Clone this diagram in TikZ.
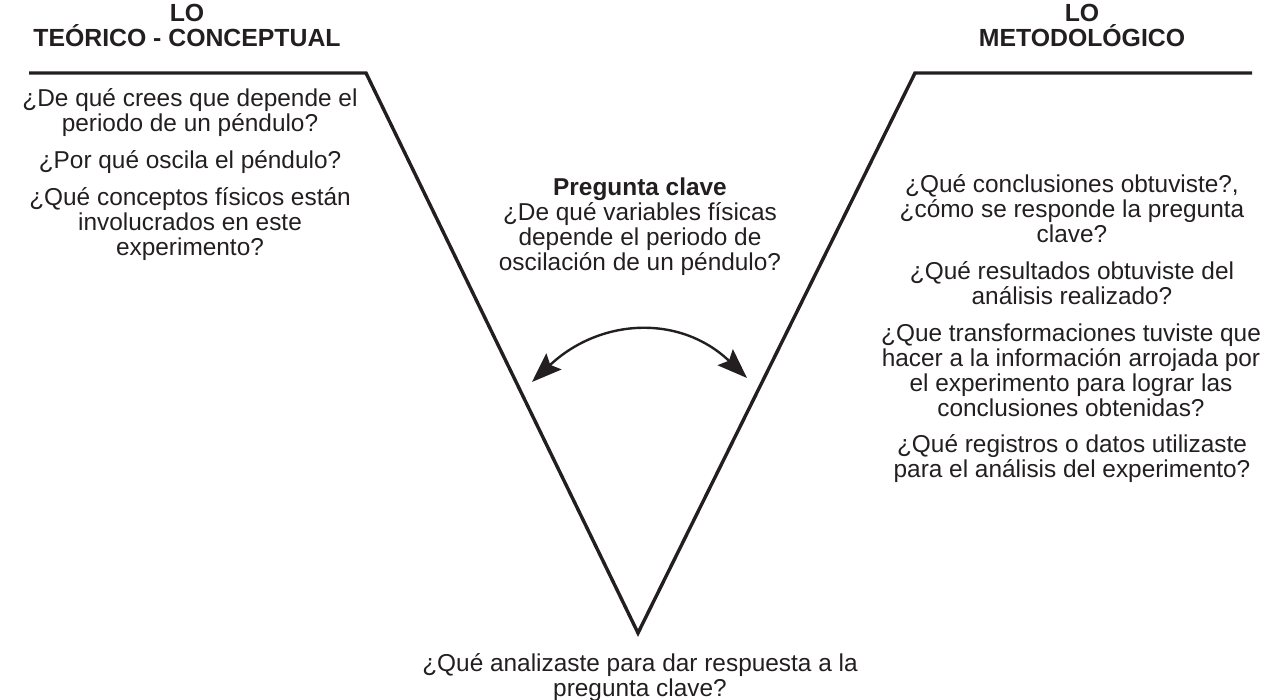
\documentclass[tikz,border=0pt]{standalone}
\usepackage{fontspec}
\setmainfont{Liberation Sans}
\usepackage{xcolor}
\usetikzlibrary{arrows.meta, positioning, calc}
\definecolor{ink}{RGB}{35,31,32}

\begin{document}
\begin{tikzpicture}[x=0.5pt, y=-0.5pt, >=Stealth]
  \tikzstyle{question} = [align=center, text=ink, inner sep=0pt, font=\fontsize{12.2}{12.5}\selectfont]
  \tikzstyle{header} = [question, font=\fontsize{12.4}{12.5}\selectfont\bfseries]
  \tikzstyle{vline} = [draw=ink, line width=1.7pt, line join=miter]

  \useasboundingbox (0,0) rectangle (1266,700);

  % the V
  \coordinate (lstart) at (29,73);
  \coordinate (lcorner) at (366,73);
  \coordinate (apex) at (638,633);
  \coordinate (rcorner) at (915,73);
  \coordinate (rend) at (1252,73);
  \draw[vline] (lstart) -- (lcorner) -- (apex) -- (rcorner) -- (rend);

  % headers
  \node [header] (theory) at (187,25.5) {LO\\TEÓRICO - CONCEPTUAL};
  \node [header] (method) at (1082,25.5) {LO\\METODOLÓGICO};

  % left side
  \node [question] (t1) at (190,112.5) {¿De qué crees que depende el\\periodo de un péndulo?};
  \node [question] (t2) at (190,162) {¿Por qué oscila el péndulo?};
  \node [question] (t3) at (190,224) {¿Qué conceptos físicos están\\involucrados en este\\experimento?};

  % key question
  \node [question] (key) at (640,226.5) {\textbf{Pregunta clave}\\¿De qué variables físicas\\depende el periodo de\\oscilación de un péndulo?};

  % right side
  \node [question] (m1) at (1072,209) {¿Qué conclusiones obtuviste?,\\¿cómo se responde la pregunta\\clave?};
  \node [question] (m2) at (1072,283.5) {¿Qué resultados obtuviste del\\análisis realizado?};
  \node [question] (m3) at (1071,370.5) {¿Que transformaciones tuviste que\\hacer a la información arrojada por\\el experimento para lograr las\\conclusiones obtenidas?};
  \node [question] (m4) at (1072,458.5) {¿Qué registros o datos utilizaste\\para el análisis del experimento?};

  % bottom
  \node [question] (events) at (640,677.5) {¿Qué analizaste para dar respuesta a la\\pregunta clave?};

  % interaction arrow
  \coordinate (aleft) at (532,382);
  \coordinate (aright) at (747,378);
  \draw[{Stealth[length=15pt, width=11pt, inset=2.5pt]}-{Stealth[length=15pt, width=11pt, inset=2.5pt]}, draw=ink, line width=1.2pt]
    (aleft) .. controls (600,318) and (680,314) .. (aright);
\end{tikzpicture}
\end{document}
